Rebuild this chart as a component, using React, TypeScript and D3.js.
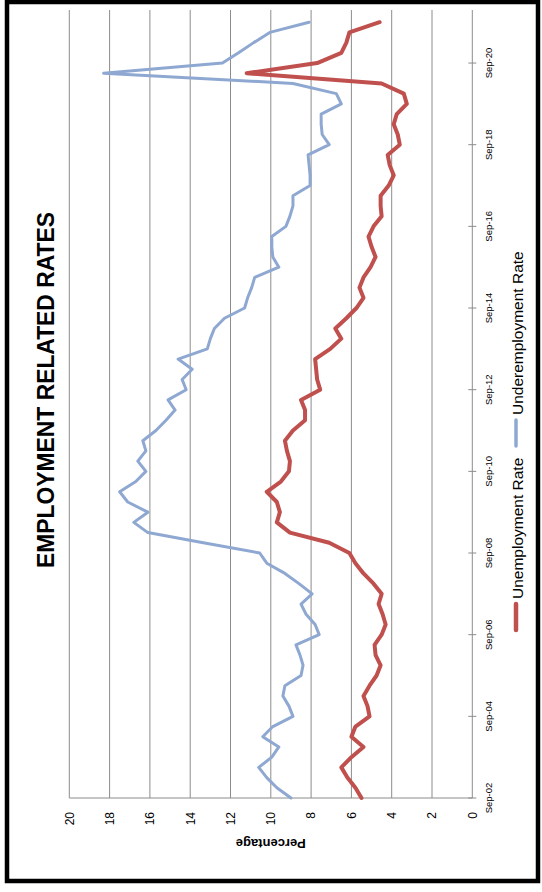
import { useEffect, useRef } from "react"
import * as d3 from "d3"

// quarterly categories, Sep-02 .. Dec-21 (last one has no data)
const categories = d3
  .timeMonth.range(new Date(2002, 8, 1), new Date(2022, 0, 1), 3)
  .map((d) => d3.timeFormat("%b-%y")(d))

const tickLabels = ["Sep-02", "Sep-04", "Sep-06", "Sep-08", "Sep-10", "Sep-12", "Sep-14", "Sep-16", "Sep-18", "Sep-20"]
const valueTicks = [0, 2, 4, 6, 8, 10, 12, 14, 16, 18, 20]

const unemployment = [
  5.5, 5.8, 6.2, 6.5, 6.0, 5.4, 6.0, 5.8, 5.1, 5.2, 5.4, 5.1, 4.75, 4.55, 4.8, 4.85,
  4.5, 4.3, 4.45, 4.65, 4.5, 4.9, 5.4, 5.8, 6.1, 7.1, 9.05, 9.7, 9.55, 9.7, 10.2, 9.5,
  9.1, 9.05, 9.2, 9.3, 8.9, 8.3, 8.3, 8.5, 7.55, 7.7, 7.75, 7.8, 7.05, 6.5, 6.8, 6.25,
  5.75, 5.4, 5.6, 5.4, 5.05, 4.8, 5.0, 5.15, 4.9, 4.5, 4.55, 4.55, 4.15, 3.9, 4.1, 4.2,
  3.6, 3.7, 3.9, 3.75, 3.25, 3.4, 4.5, 11.2, 7.7, 6.5, 6.25, 6.1, 4.6,
]

const underemployment = [
  9.0, 9.7, 10.2, 10.6, 9.95, 9.6, 10.4, 9.9, 8.9, 9.1, 9.4, 9.3, 8.5, 8.4, 8.55, 8.75,
  7.6, 7.8, 8.25, 8.5, 7.95, 8.6, 9.3, 10.2, 10.55, 13.35, 16.1, 16.8, 16.1, 17.1, 17.5, 16.7,
  16.2, 16.6, 16.2, 16.35, 15.7, 15.2, 14.75, 15.1, 14.2, 14.4, 13.9, 14.6, 13.15, 13.0, 12.8, 12.3,
  11.3, 11.15, 10.95, 10.8, 9.6, 9.9, 9.95, 9.95, 9.25, 9.05, 8.9, 8.9, 8.05, 8.05, 8.1, 8.15,
  7.1, 7.45, 7.5, 7.5, 6.5, 6.75, 8.9, 18.3, 12.4, 11.6, 10.85, 10.05, 8.1,
]

const seriesNames = ["Unemployment Rate", "Underemployment Rate"]
const seriesColors = ["#C0504D", "#8EA8D2"]

const App = () => {
  const svgRef = useRef<SVGSVGElement>(null)

  useEffect(() => {
    const svg = d3.select(svgRef.current)
    svg.selectAll("*").remove()

    const width = 542
    const height = 892
    svg.attr("width", width).attr("height", height)

    // chart is turned on its side: values run right-to-left, dates bottom-to-top
    const plot = { left: 69.3, right: 472.3, top: 10, bottom: 798 }

    const v = d3.scaleLinear().domain([0, 20]).range([plot.right, plot.left])
    const c = d3.scalePoint<string>().domain(categories).range([plot.bottom, 12])

    svg.append("rect").attr("width", width).attr("height", height).attr("fill", "#fff")

    // outer frame
    svg
      .append("rect")
      .attr("x", 7)
      .attr("y", 2)
      .attr("width", 531)
      .attr("height", 879)
      .attr("fill", "none")
      .attr("stroke", "#000")
      .attr("stroke-width", 4.5)

    // gridlines
    svg
      .append("g")
      .selectAll("line")
      .data(valueTicks.filter((t) => t > 0))
      .enter()
      .append("line")
      .attr("x1", (d) => v(d))
      .attr("x2", (d) => v(d))
      .attr("y1", plot.top)
      .attr("y2", plot.bottom)
      .attr("stroke", "#8c8c8c")
      .attr("stroke-width", 1)

    // axes
    svg
      .append("line")
      .attr("x1", plot.left)
      .attr("x2", plot.right)
      .attr("y1", plot.bottom)
      .attr("y2", plot.bottom)
      .attr("stroke", "#8c8c8c")
    svg
      .append("line")
      .attr("x1", plot.right)
      .attr("x2", plot.right)
      .attr("y1", plot.top)
      .attr("y2", plot.bottom)
      .attr("stroke", "#8c8c8c")

    svg
      .append("g")
      .selectAll("line")
      .data(tickLabels)
      .enter()
      .append("line")
      .attr("x1", plot.right - 4)
      .attr("x2", plot.right + 4)
      .attr("y1", (d) => c(d) || 0)
      .attr("y2", (d) => c(d) || 0)
      .attr("stroke", "#8c8c8c")

    svg
      .append("g")
      .selectAll("text")
      .data(tickLabels)
      .enter()
      .append("text")
      .attr("transform", (d) => `translate(492,${c(d)}) rotate(-90)`)
      .attr("text-anchor", "middle")
      .attr("font-family", "Liberation Sans, Arial, sans-serif")
      .attr("font-size", 9.5)
      .attr("fill", "#000")
      .text((d) => d)

    svg
      .append("g")
      .selectAll("text")
      .data(valueTicks)
      .enter()
      .append("text")
      .attr("transform", (d) => `translate(${v(d) + 4.3},812) rotate(-90)`)
      .attr("text-anchor", "end")
      .attr("font-family", "Liberation Sans, Arial, sans-serif")
      .attr("font-size", 12)
      .attr("fill", "#000")
      .text((d) => d)

    svg
      .append("text")
      .attr("transform", `translate(${(plot.left + plot.right) / 2},838.5) rotate(180)`)
      .attr("text-anchor", "middle")
      .attr("font-family", "Liberation Sans, Arial, sans-serif")
      .attr("font-size", 13)
      .attr("font-weight", "bold")
      .text("Percentage")

    // title
    svg
      .append("text")
      .attr("transform", "translate(53.5,390) rotate(-90)")
      .attr("text-anchor", "middle")
      .attr("font-family", "Liberation Sans, Arial, sans-serif")
      .attr("font-size", 24)
      .attr("font-weight", "bold")
      .attr("textLength", 356)
      .attr("lengthAdjust", "spacingAndGlyphs")
      .text("EMPLOYMENT RELATED RATES")

    // series
    const line = d3
      .line<number>()
      .x((d) => v(d))
      .y((_, i) => c(categories[i]) || 0)

    const series = [underemployment, unemployment]
    const widths = [3, 4]
    const colorsInDrawOrder = [seriesColors[1], seriesColors[0]]
    series.forEach((s, k) => {
      svg
        .append("path")
        .attr("d", line(s))
        .attr("fill", "none")
        .attr("stroke", colorsInDrawOrder[k])
        .attr("stroke-width", widths[k])
        .attr("stroke-linejoin", "round")
        .attr("stroke-linecap", "round")
    })

    // legend
    const legend = [
      { name: seriesNames[0], color: seriesColors[0], w: 4.5, y0: 630, y1: 604, ty: 599 },
      { name: seriesNames[1], color: seriesColors[1], w: 3.5, y0: 446, y1: 420, ty: 415 },
    ]
    legend.forEach((d) => {
      svg
        .append("line")
        .attr("x1", 516)
        .attr("x2", 516)
        .attr("y1", d.y0)
        .attr("y2", d.y1)
        .attr("stroke", d.color)
        .attr("stroke-width", d.w)
        .attr("stroke-linecap", "round")
      svg
        .append("text")
        .attr("transform", `translate(522.5,${d.ty}) rotate(-90)`)
        .attr("font-family", "Liberation Sans, Arial, sans-serif")
        .attr("font-size", 15.5)
        .text(d.name)
    })
  }, [])

  return (
    <>
      <style>{`body{margin:0}`}</style>
      <svg ref={svgRef}></svg>
    </>
  )
}

export default App
